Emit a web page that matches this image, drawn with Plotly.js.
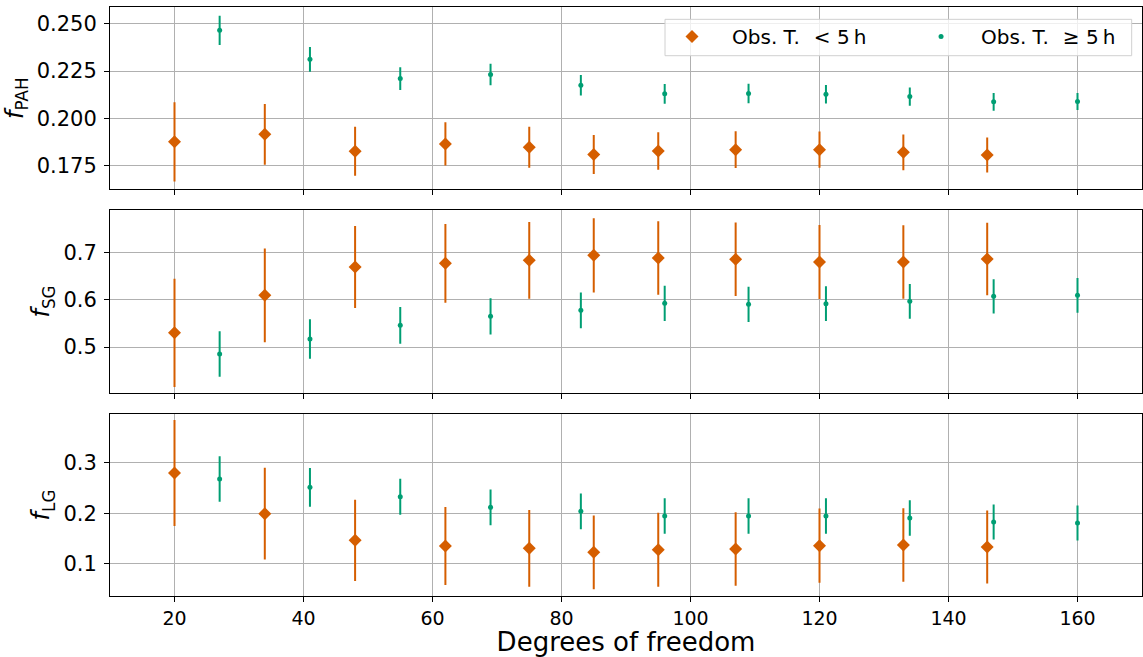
<!DOCTYPE html>
<html>
<head>
<meta charset="utf-8">
<script src="https://cdn.plot.ly/plotly-3.0.1.min.js"></script>
<style>html,body{margin:0;padding:0;background:#fff;}#chart{width:1143px;height:657px;}</style>
</head>
<body>
<div id="chart"></div>
<script>
// Degrees of freedom
const xShort = [20, 34, 48, 62, 75, 85, 95, 107, 120, 133, 146];
const xLong  = [27, 41, 55, 69, 83, 96, 109, 121, 134, 147, 160];

// f_PAH
const pahShort    = [0.1877, 0.1917, 0.1828, 0.1866, 0.1849, 0.1810, 0.1829, 0.1836, 0.1836, 0.1822, 0.1808];
const pahShortErr = [0.0209, 0.0160, 0.0129, 0.0114, 0.0108, 0.0103, 0.0099, 0.0097, 0.0095, 0.0094, 0.0092];
const pahLong     = [0.2465, 0.2312, 0.2211, 0.2232, 0.2176, 0.2130, 0.2132, 0.2128, 0.2116, 0.2088, 0.2090];
const pahLongErr  = [0.0077, 0.0065, 0.0060, 0.0057, 0.0054, 0.0052, 0.0052, 0.0049, 0.0048, 0.0047, 0.0045];

// f_SG
const sgShort    = [0.5300, 0.6095, 0.6696, 0.6774, 0.6837, 0.6943, 0.6887, 0.6859, 0.6802, 0.6802, 0.6866];
const sgShortErr = [0.1145, 0.0993, 0.0869, 0.0834, 0.0815, 0.0785, 0.0781, 0.0778, 0.0782, 0.0778, 0.0767];
const sgLong     = [0.4852, 0.5170, 0.5459, 0.5650, 0.5777, 0.5926, 0.5905, 0.5919, 0.5968, 0.6074, 0.6095];
const sgLongErr  = [0.0484, 0.0417, 0.0389, 0.0385, 0.0378, 0.0375, 0.0375, 0.0368, 0.0368, 0.0364, 0.0368];

// f_LG
const lgShort    = [0.2796, 0.1993, 0.1467, 0.1355, 0.1309, 0.1230, 0.1283, 0.1296, 0.1362, 0.1375, 0.1336];
const lgShortErr = [0.1046, 0.0905, 0.0803, 0.0770, 0.0757, 0.0727, 0.0731, 0.0727, 0.0734, 0.0724, 0.0721];
const lgLong     = [0.2678, 0.2513, 0.2329, 0.2118, 0.2039, 0.1947, 0.1947, 0.1947, 0.1908, 0.1829, 0.1809];
const lgLongErr  = [0.0447, 0.0382, 0.0355, 0.0355, 0.0352, 0.0349, 0.0349, 0.0349, 0.0349, 0.0346, 0.0346];

const nameShort = '\u2003Obs. T.\u2002\u2009< 5\u2009h';
const nameLong = '\u2003Obs. T.\u2002\u2009≥ 5\u2009h';
const ORANGE = '#d55e00';
const GREEN = '#009e73';

function shortTrace(y, err, xa, ya, show) {
  return {
    x: xShort, y: y, xaxis: xa, yaxis: ya, type: 'scatter', mode: 'markers',
    name: nameShort, showlegend: show, legendgroup: 's', legend: 'legend',
    marker: {symbol: 'diamond', size: 10, color: ORANGE},
    error_y: {type: 'data', array: err, visible: true, color: ORANGE, thickness: 2, width: 0}
  };
}
function longTrace(y, err, xa, ya, show) {
  return {
    x: xLong, y: y, xaxis: xa, yaxis: ya, type: 'scatter', mode: 'markers',
    name: nameLong, showlegend: show, legendgroup: 'l', legend: 'legend2',
    marker: {symbol: 'circle', size: 5, color: GREEN},
    error_y: {type: 'data', array: err, visible: true, color: GREEN, thickness: 2, width: 0}
  };
}

const data = [
  shortTrace(pahShort, pahShortErr, 'x', 'y', true),
  longTrace(pahLong, pahLongErr, 'x', 'y', true),
  shortTrace(sgShort, sgShortErr, 'x2', 'y2', false),
  longTrace(sgLong, sgLongErr, 'x2', 'y2', false),
  shortTrace(lgShort, lgShortErr, 'x3', 'y3', false),
  longTrace(lgLong, lgLongErr, 'x3', 'y3', false)
];

const FONT = 'DejaVu Sans, sans-serif';
const GRID = '#b0b0b0';

function xax(anchor, labels) {
  return {
    anchor: anchor, domain: [0, 1], range: [10, 170],
    tickvals: [20, 40, 60, 80, 100, 120, 140, 160],
    showticklabels: labels, ticks: 'outside', ticklen: 5, tickwidth: 1, tickcolor: '#000',
    showgrid: true, gridcolor: GRID, gridwidth: 1, zeroline: false,
    showline: true, linecolor: '#000', linewidth: 1, mirror: true,
    tickfont: {family: FONT, size: 19, color: '#000'}
  };
}
function yax(anchor, domain, range, tickvals, fmt, title) {
  return {
    anchor: anchor, domain: domain, range: range, tickvals: tickvals, tickformat: fmt,
    ticks: 'outside', ticklen: 5, tickwidth: 1, tickcolor: '#000', ticklabelstandoff: 3,
    showgrid: true, gridcolor: GRID, gridwidth: 1, zeroline: false,
    showline: true, linecolor: '#000', linewidth: 1, mirror: true,
    tickfont: {family: FONT, size: 21, color: '#000'},
    title: {text: title, font: {family: FONT, size: 24, color: '#000'}, standoff: 6}
  };
}

const xBottom = xax('y3', true);
xBottom.title = {text: 'Degrees of freedom', font: {family: FONT, size: 26, color: '#000'}, standoff: 6};

const legendBase = {
  orientation: 'h', xanchor: 'left', yanchor: 'middle', y: 0.9444,
  bgcolor: 'rgba(0,0,0,0)', borderwidth: 0,
  font: {family: FONT, size: 20, color: '#000'}
};

const layout = {
  width: 1143, height: 657,
  margin: {l: 110, r: 1, t: 0, b: 0},
  paper_bgcolor: '#fff', plot_bgcolor: '#fff',
  font: {family: FONT, color: '#000'},
  showlegend: true,
  legend: Object.assign({}, legendBase, {x: 0.5446}),
  legend2: Object.assign({}, legendBase, {x: 0.7859}),
  shapes: [{
    type: 'rect', xref: 'paper', yref: 'paper', layer: 'above',
    x0: 0.5378, x1: 0.990, y0: 0.9152, y1: 0.9706,
    fillcolor: 'rgba(255,255,255,0.8)', line: {color: '#d0d0d0', width: 1}
  }],
  xaxis: Object.assign(xax('y', false), {matches: 'x3'}),
  xaxis2: Object.assign(xax('y2', false), {matches: 'x3'}),
  xaxis3: xBottom,
  yaxis: yax('x', [0.7119, 0.98935], [0.1627, 0.2588], [0.175, 0.2, 0.225, 0.25], '.3f', '<i>f</i><sub>PAH</sub>'),
  yaxis2: yax('x2', [0.4023, 0.6799], [0.4032, 0.7898], [0.5, 0.6, 0.7], '.1f', '<i>f</i><sub>SG</sub>'),
  yaxis3: yax('x3', [0.09239, 0.3703], [0.0362, 0.3967], [0.1, 0.2, 0.3], '.1f', '<i>f</i><sub>LG</sub>')
};

Plotly.newPlot('chart', data, layout, {displayModeBar: false, staticPlot: true});
</script>
</body>
</html>
